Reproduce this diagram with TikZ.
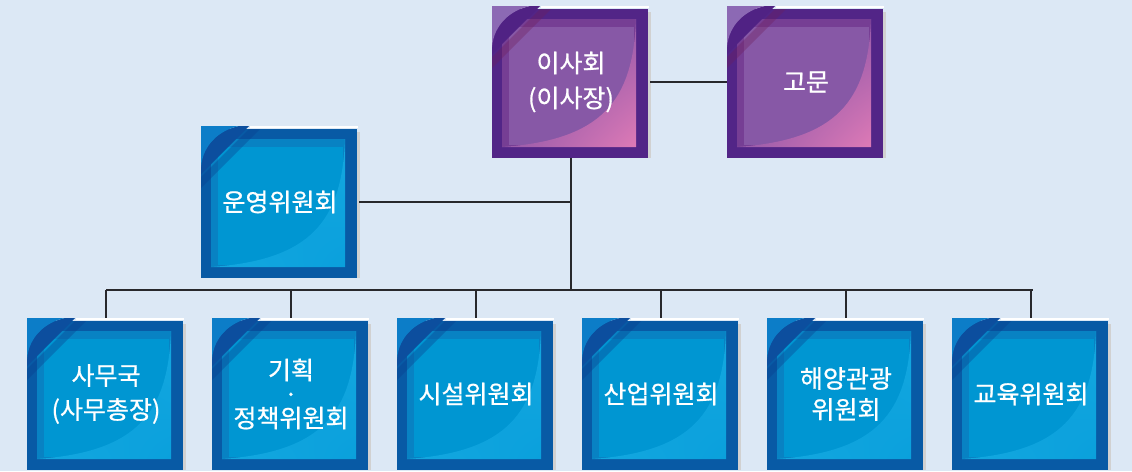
\documentclass[tikz,border=0pt]{standalone}
\usepackage{fontspec}
\usetikzlibrary{shadings}
\newfontfamily\kr[FakeBold=0.7]{Noto Sans CJK KR}
\definecolor{bg}{RGB}{220,232,245}
\definecolor{Bframe}{RGB}{8,90,165}
\definecolor{Bmid}{RGB}{8,130,195}
\definecolor{Binner}{RGB}{0,150,210}
\definecolor{Blight}{RGB}{20,168,224}
\definecolor{Blight2}{RGB}{10,160,220}
\definecolor{Bfold}{RGB}{12,125,200}
\definecolor{Bcurl}{RGB}{12,78,158}
\definecolor{Bshad}{RGB}{10,60,140}
\definecolor{Pframe}{RGB}{82,37,135}
\definecolor{Pmid}{RGB}{118,62,148}
\definecolor{Pinner}{RGB}{135,88,166}
\definecolor{Plight}{RGB}{150,90,170}
\definecolor{Plight2}{RGB}{222,122,182}
\definecolor{Pfold}{RGB}{140,105,180}
\definecolor{Pcurl}{RGB}{80,34,132}
\definecolor{Pshad}{RGB}{110,30,90}
\definecolor{conn}{RGB}{40,40,44}
\tikzset{
  orgbox/.style={minimum width=158pt, minimum height=152pt, inner sep=0pt,
    text=white, align=center, font=\kr\fontsize{25}{35}\selectfont},
  connline/.style={draw=conn, line width=2pt},
}
\newcommand\obox[5]{%
  \begin{scope}[shift={#2}]
    \fill[black!18] (77,-70) rectangle (80,76);
    \fill[white] (-30,-76) rectangle (78,-74);
    \fill[#3frame] (-79,-73) rectangle (77,76);
    \fill[#3mid] (-69,-63) rectangle (65,65);
    \fill[#3inner] (-62,-55) rectangle (63,63);
    \shade[upper left=#3inner, upper right=#3light, lower left=#3light, lower right=#3light2]
      (65,-63) .. controls (62,20) and (30,58) .. (-69,65) -- (65,65) -- cycle;
    \fill[#3shad, opacity=0.35] (-31,-73) -- (-79,-25) -- (-79,-14) -- (-20,-73) -- cycle;
    \fill[#3curl] (-31,-76) -- (-79,-28) -- (-79,-35) .. controls (-77,-58) and (-60,-72) .. (-41,-76) -- cycle;
    \fill[#3fold] (-79,-76) -- (-41,-76) .. controls (-60,-72) and (-77,-58) .. (-79,-35) -- cycle;
  \end{scope}
  \node[orgbox] (#1) at #2 {#4};
}
\begin{document}
\begin{tikzpicture}[x=1pt,y=-1pt]
  \fill[bg] (0,0) rectangle (1132,471);
  \useasboundingbox (0,0) rectangle (1132,471);
  \obox{isa}{(571,82)}{P}{이사회\\(이사장)}{}
  \obox{gomun}{(806,82)}{P}{고문}{}
  \obox{unyeong}{(280,202)}{B}{운영위원회}{}
  \obox{samu}{(106,394)}{B}{사무국\\[-1pt](사무총장)}{}
  \obox{gihoek}{(291,394)}{B}{기획\\[-11pt]·\\[-11pt]정책위원회}{}
  \obox{siseol}{(476,394)}{B}{시설위원회}{}
  \obox{saneop}{(661,394)}{B}{산업위원회}{}
  \obox{haeyang}{(846,394)}{B}{해양관광\\[-4pt]위원회}{}
  \obox{gyoyuk}{(1031,394)}{B}{교육위원회}{}
  \coordinate (busL) at (106,290);
  \coordinate (busR) at (1033,290);
  \draw[connline] (isa.east) -- (gomun.west);
  \draw[connline] (isa.south) -- (isa.south |- busL);
  \draw[connline] (unyeong.east) -- (unyeong.east -| isa.south);
  \draw[connline] (busL) -- (busR);
  \foreach \n in {samu,gihoek,siseol,saneop,haeyang,gyoyuk}
    \draw[connline] (\n.north |- busL) -- (\n.north);
\end{tikzpicture}
\end{document}
